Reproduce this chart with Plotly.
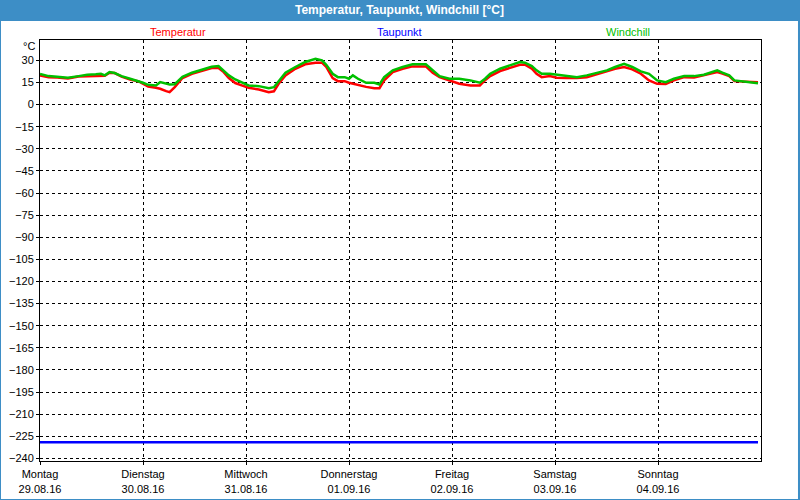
import pandas as pd
import plotly.graph_objects as go

# hours since Montag 29.08.16 00:00
hours = [
    0, 2, 4, 6.5, 9, 11, 13, 14.2, 15.1, 16.2, 17.4, 19, 21, 23,
    24, 25.2, 27, 28, 29.4, 30.2, 31.4, 33.2, 35.4, 37.7, 40, 41.6, 42.8, 44, 45.5, 47,
    48.6, 51, 53.3, 54.5, 55.6, 57.2, 59.5, 61.8, 64.2, 65.7, 66.7, 67.4, 68.2, 69.4, 71,
    72, 72.9, 74.1, 76, 77.9, 79.1, 80.2, 82.2, 84.5, 86.8, 89.9, 91.5, 93.1, 95.4,
    97.7, 100.3, 102.5, 103.7, 104.9, 107.2, 109.5, 111.8, 113, 114.6, 115.7, 116.9, 118.8,
    120.4, 122.7, 125.1, 127.4, 129.7, 132.1, 134, 136.1, 138, 140, 141.9, 143.8,
    145.8, 147.7, 150.1, 152.4, 154.7, 156.3, 157.8, 159, 160.6, 161.8, 164.1, 166.5, 167.3,
]
temperatur = [
    19.8, 18.6, 18.4, 17.7, 19.1, 19.3, 19.5, 19.8, 19.5, 21.6, 21.4, 19.0, 17.0, 15.7,
    14.1, 12.3, 11.4, 10.7, 9.1, 8.4, 11.8, 18.0, 20.9, 22.7, 24.8, 24.8, 22.0, 18.0, 14.6, 13.0,
    11.4, 10.2, 8.4, 9.0, 14.1, 19.8, 24.3, 27.3, 28.4, 28.4, 25.5, 22.0, 18.0, 15.9, 15.9,
    14.8, 14.1, 13.0, 12.0, 11.1, 11.1, 16.4, 22.0, 24.3, 25.9, 25.9, 21.5, 18.6, 16.4,
    14.1, 13.0, 13.0, 16.5, 19.3, 22.7, 25.0, 27.0, 27.0, 24.3, 20.9, 18.6, 19.3,
    18.2, 18.0, 18.0, 18.6, 20.5, 22.5, 24.3, 25.5, 23.9, 20.9, 16.4, 14.1,
    13.9, 16.4, 18.6, 18.4, 19.8, 20.9, 22.0, 21.0, 19.3, 15.9, 15.7, 15.7, 15.2,
]
windchill = [
    20.7, 19.3, 18.9, 18.2, 19.3, 20.2, 20.5, 20.9, 19.8, 22.0, 21.4, 19.3, 17.5, 15.9,
    14.8, 13.4, 13.0, 15.2, 14.5, 13.6, 13.8, 18.8, 21.6, 23.9, 25.7, 26.1, 23.2, 19.8, 17.0, 15.2,
    13.0, 12.5, 11.1, 11.8, 15.7, 21.6, 25.5, 28.9, 31.1, 30.0, 27.0, 24.3, 20.9, 18.6, 18.6,
    17.5, 19.8, 17.5, 14.8, 14.8, 13.6, 18.6, 23.2, 25.5, 27.3, 27.3, 23.2, 19.3, 17.5,
    17.5, 16.4, 14.8, 17.5, 20.9, 24.3, 26.6, 28.9, 28.4, 26.1, 23.2, 20.9, 20.9,
    20.2, 19.3, 18.6, 19.8, 21.6, 23.2, 25.5, 27.7, 25.5, 22.5, 20.9, 16.4,
    15.2, 17.5, 19.3, 19.3, 20.2, 21.6, 23.2, 21.6, 19.8, 16.4, 15.7, 14.8, 14.5,
]
taupunkt_wert = -229

tage = ["Montag", "Dienstag", "Mittwoch", "Donnerstag", "Freitag", "Samstag", "Sonntag"]
daten = ["29.08.16", "30.08.16", "31.08.16", "01.09.16", "02.09.16", "03.09.16", "04.09.16"]
y_ticks = list(range(30, -241, -15))

start = pd.Timestamp("2016-08-29")
zeit = [start + pd.Timedelta(hours=h) for h in hours]
tag_ticks = [start + pd.Timedelta(days=i) for i in range(7)]

blau = "#3d8ec6"
schrift = "Liberation Sans"

fig = go.Figure()
fig.add_trace(go.Scatter(x=zeit, y=temperatur, mode="lines",
                         line=dict(color="#ff0000", width=2.5), name="Temperatur"))
fig.add_trace(go.Scatter(x=[zeit[0], zeit[-1]], y=[taupunkt_wert, taupunkt_wert], mode="lines",
                         line=dict(color="#0000ff", width=2.5), name="Taupunkt"))
fig.add_trace(go.Scatter(x=zeit, y=windchill, mode="lines",
                         line=dict(color="#00c000", width=2.5), name="Windchill"))

# white inner panel on the blue frame
fig.add_shape(type="rect", xref="paper", yref="paper",
              x0=-0.0541, x1=1.0513, y0=-0.0903, y1=1.0451,
              fillcolor="white", line_width=0, layer="below")

fig.add_annotation(text="<b>Temperatur, Taupunkt, Windchill [°C]</b>", xref="paper", yref="paper",
                   x=0.4993, y=(461 - 10) / 421, yanchor="middle", showarrow=False,
                   font=dict(color="white", size=12, family=schrift))
for txt, col, px in [("Temperatur", "#ff0000", 148), ("Taupunkt", "#0000ff", 399),
                     ("Windchill", "#00c000", 652)]:
    fig.add_annotation(text=txt, xref="paper", yref="paper", x=(px - 40) / 721,
                       y=(461 - 32) / 421, yanchor="middle", showarrow=False,
                       font=dict(color=col, size=11, family=schrift))
fig.add_annotation(text="°C", xref="paper", yref="paper", x=(37 - 40) / 721,
                   y=(461 - 46) / 421, xanchor="right", yanchor="middle", showarrow=False,
                   font=dict(color="black", size=11, family=schrift))

fig.update_xaxes(
    type="date",
    range=[start, start + pd.Timedelta(days=7)],
    tickvals=tag_ticks,
    ticktext=[f"{t}<br>{d}" for t, d in zip(tage, daten)],
    showgrid=True, gridcolor="black", gridwidth=1, griddash="3px,3px",
    showline=True, linecolor="black", linewidth=1, mirror=True,
    ticks="outside", ticklen=3, tickcolor="black",
    tickfont=dict(size=11, color="black", family=schrift),
    zeroline=False, automargin=False,
)
fig.update_yaxes(
    range=[-241.8, 43.8],
    tickvals=y_ticks,
    showgrid=True, gridcolor="black", gridwidth=1, griddash="3px,3px",
    showline=True, linecolor="black", linewidth=1, mirror=True,
    ticks="outside", ticklen=3, tickcolor="black",
    tickfont=dict(size=11, color="black", family=schrift),
    zeroline=False, automargin=False,
)
fig.update_layout(
    width=800, height=500,
    margin=dict(l=40, r=39, t=40, b=39),
    paper_bgcolor=blau, plot_bgcolor="white",
    showlegend=False,
    font=dict(family=schrift),
)

# page body has an 8px default margin, drop it so the figure sits at 0,0
fig.write_html("out.html", config={"displayModeBar": False},
               post_script="document.body.style.margin='0';")
